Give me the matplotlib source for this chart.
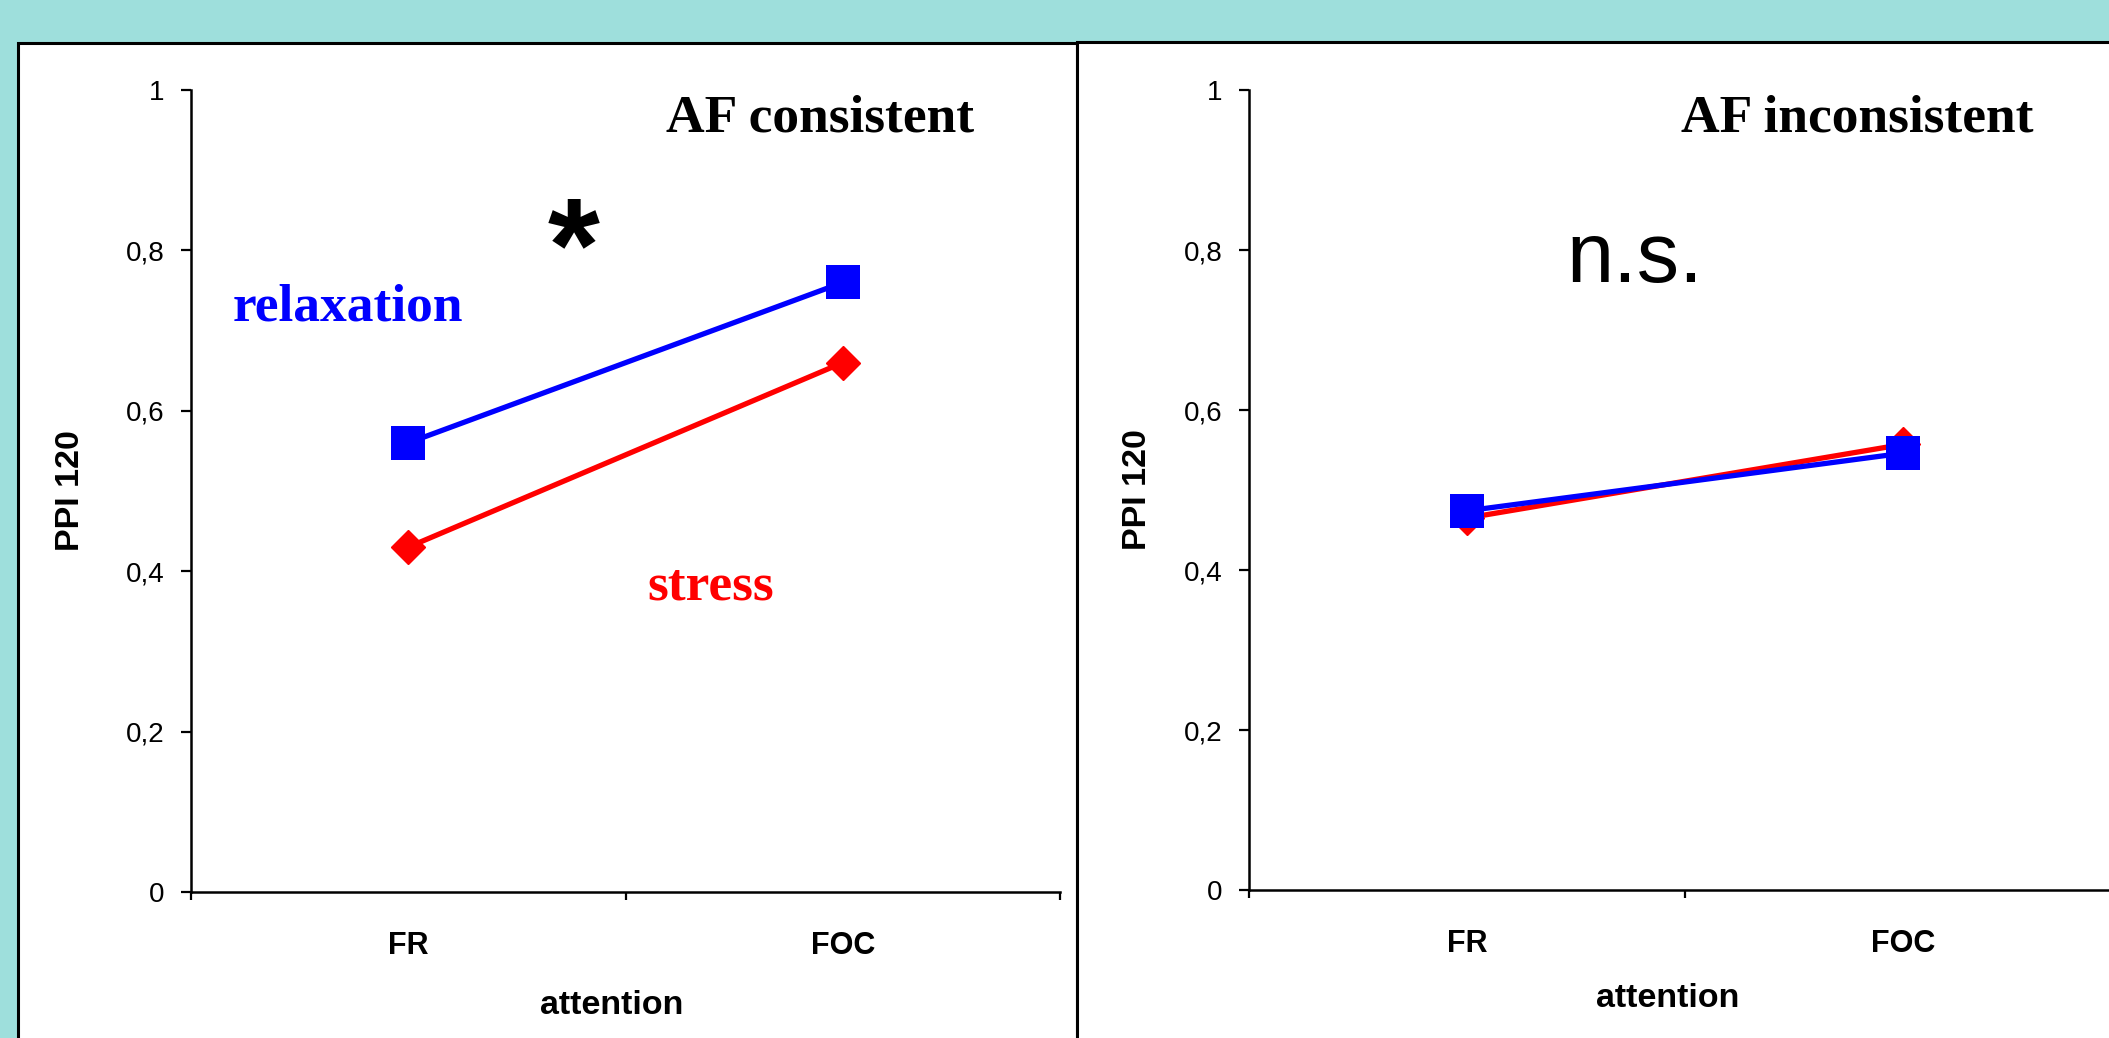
import matplotlib
matplotlib.use('Agg')
import matplotlib.pyplot as plt
from matplotlib.patches import Rectangle

# data
conditions = ['FR', 'FOC']
consistent_relax = [0.56, 0.76]
consistent_stress = [0.43, 0.66]
inconsistent_relax = [0.474, 0.546]
inconsistent_stress = [0.465, 0.557]
yticks = [0, 0.2, 0.4, 0.6, 0.8, 1.0]
ytick_labels = ['0', '0,2', '0,4', '0,6', '0,8', '1']

SANS = 'Liberation Sans'
SERIF = 'Liberation Serif'
BG = '#9edfdc'

fig = plt.figure(figsize=(21.09, 10.38), dpi=100)
fig.patch.set_facecolor(BG)

# white panel boxes behind the charts
W, H = 2109, 1038
fig.patches.append(Rectangle((18 / W, -0.05), (1077 - 18) / W, (H - 43) / H + 0.05,
                             transform=fig.transFigure, facecolor='white',
                             edgecolor='black', lw=2.2, zorder=-1))
fig.patches.append(Rectangle((1077 / W, -0.05), 0.5, (H - 42) / H + 0.05,
                             transform=fig.transFigure, facecolor='white',
                             edgecolor='black', lw=2.2, zorder=-1))


def setup(ax, ylab_x, xlab_x, xlab_y):
    ax.set_facecolor('none')
    ax.set_xlim(0, 2)
    ax.set_ylim(0, 1)
    for s in ['top', 'right']:
        ax.spines[s].set_visible(False)
    for s in ['left', 'bottom']:
        ax.spines[s].set_linewidth(1.8)
    ax.set_yticks(yticks)
    ax.set_yticklabels(ytick_labels, fontfamily=SANS, fontsize=20)
    ax.tick_params(axis='y', direction='out', length=7, width=1.6, pad=12)
    ax.set_xticks([0, 1, 2])
    ax.set_xticklabels([])
    ax.tick_params(axis='x', which='major', direction='out', length=6, width=1.6)
    ax.set_xticks([0.5, 1.5], minor=True)
    ax.set_xticklabels(conditions, minor=True, fontfamily=SANS, fontsize=22,
                       fontweight='bold')
    ax.tick_params(axis='x', which='minor', length=0, pad=28)
    ax.set_ylabel('PPI 120', fontfamily=SANS, fontsize=24.5, fontweight='bold')
    ax.yaxis.set_label_coords(ylab_x, 0.5)
    ax.set_xlabel('attention', fontfamily=SANS, fontsize=24.5, fontweight='bold')
    ax.xaxis.set_label_coords(xlab_x, xlab_y)


xpos = [0.5, 1.5]

ax1 = fig.add_axes([191 / W, (H - 892) / H, 869 / W, 802 / H])
setup(ax1, -0.121, 0.484, -0.122)
ax1.plot(xpos, consistent_stress, color='red', lw=3.8, marker='D', ms=17,
         mec='red', clip_on=False)
ax1.plot(xpos, consistent_relax, color='blue', lw=3.8, marker='s', ms=24,
         mec='blue', mew=0, clip_on=False)
ax1.text(1.447, 0.965, 'AF consistent', fontfamily=SERIF, fontweight='bold',
         fontsize=38.5, ha='center', va='center')
ax1.text(0.881, 0.793, '*', fontfamily=SANS, fontweight='bold', fontsize=96,
         ha='center', va='center')
ax1.text(0.361, 0.729, 'relaxation', fontfamily=SERIF, fontweight='bold',
         fontsize=38.5, color='blue', ha='center', va='center')
ax1.text(1.197, 0.381, 'stress', fontfamily=SERIF, fontweight='bold',
         fontsize=38.5, color='red', ha='center', va='center')

ax2 = fig.add_axes([1249 / W, (H - 890) / H, 872 / W, 800 / H])
setup(ax2, -0.11, 0.48, -0.116)
ax2.plot(xpos, inconsistent_stress, color='red', lw=3.8, marker='D', ms=17,
         mec='red', clip_on=False)
ax2.plot(xpos, inconsistent_relax, color='blue', lw=3.8, marker='s', ms=24,
         mec='blue', mew=0, clip_on=False)
ax2.text(1.394, 0.965, 'AF inconsistent', fontfamily=SERIF, fontweight='bold',
         fontsize=38.5, ha='center', va='center')
ax2.text(0.885, 0.787, 'n.s.', fontfamily=SANS, fontsize=61,
         ha='center', va='center')

fig.savefig('out.png', dpi=100, facecolor=BG)
